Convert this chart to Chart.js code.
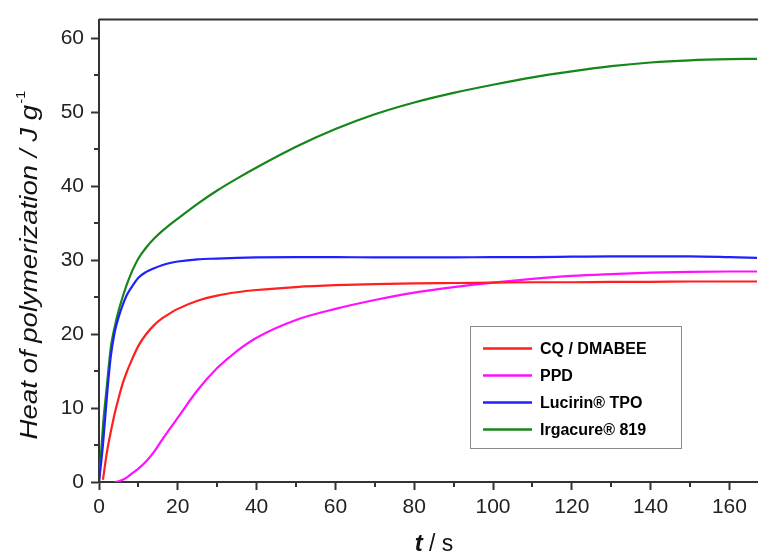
<!DOCTYPE html>
<html>
<head>
<meta charset="utf-8">
<script src="https://cdn.jsdelivr.net/npm/chart.js@4.4.0/dist/chart.umd.min.js"></script>
<style>
  html, body { margin: 0; padding: 0; background: #fff; }
  #wrap { width: 758px; height: 554px; }
</style>
</head>
<body>
<div id="wrap"><canvas id="dsc"></canvas></div>
<script>
// Tempo (s) e calor de polimerização (J/g)
const tSec = [0, 1, 2, 3, 4, 5, 6, 7, 8, 10, 12, 14, 16, 18, 20, 25, 30, 35, 40,
  50, 60, 70, 80, 90, 100, 110, 120, 130, 140, 150, 160, 167];

const hCQ = [null, 0.3, 4.0, 6.8, 9.3, 11.4, 13.3, 14.8, 16.1, 18.4, 20.0, 21.2, 22.1, 22.8, 23.4, 24.5, 25.2, 25.65, 25.95,
  26.35, 26.6, 26.75, 26.85, 26.9, 26.95, 27.0, 27.0, 27.05, 27.05, 27.1, 27.1, 27.1];

const hPPD = [null, null, null, null, 0, 0.1, 0.3, 0.6, 1.0, 1.8, 2.8, 4.1, 5.7, 7.2, 8.7, 12.4, 15.4, 17.7, 19.5,
  21.9, 23.4, 24.6, 25.6, 26.35, 26.95, 27.45, 27.85, 28.1, 28.3, 28.4, 28.45, 28.45];

const hTPO = [0, 5.0, 11.5, 17.0, 20.3, 22.3, 23.9, 25.2, 26.1, 27.6, 28.4, 28.9, 29.3, 29.6, 29.8, 30.1, 30.2, 30.3, 30.35,
  30.4, 30.4, 30.35, 30.35, 30.35, 30.4, 30.4, 30.45, 30.5, 30.5, 30.5, 30.4, 30.3];

const h819 = [0, 7.5, 13.0, 18.2, 21.0, 23.2, 25.0, 26.6, 28.0, 30.2, 31.7, 32.9, 33.9, 34.8, 35.6, 37.6, 39.4, 41.0, 42.5,
  45.3, 47.7, 49.7, 51.3, 52.6, 53.7, 54.7, 55.5, 56.2, 56.7, 57.0, 57.15, 57.2];

const seriesNames = ['CQ / DMABEE', 'PPD', 'Lucirin® TPO', 'Irgacure® 819'];
const seriesColors = ['#ff1f1f', '#ff10ff', '#1f1fff', '#16861a'];

// Marcas dos eixos
const xTicks = [0, 20, 40, 60, 80, 100, 120, 140, 160];
const xMinor = [10, 30, 50, 70, 90, 110, 130, 150];
const yTicks = [0, 10, 20, 30, 40, 50, 60];
const yMinor = [5, 15, 25, 35, 45, 55];

const fontFam = "'Liberation Sans', Arial, sans-serif";
const axisColor = '#333333';

function toPoints(values) {
  return tSec.map((t, i) => ({ x: t, y: values[i] }));
}

// Plugin: bordas, marcas secundárias, títulos dos eixos e legenda interna
const decorPlugin = {
  id: 'decor',
  afterDraw(chart) {
    const ctx = chart.ctx;
    const area = chart.chartArea;
    const xs = chart.scales.x;
    const ys = chart.scales.y;

    ctx.save();
    ctx.strokeStyle = axisColor;
    ctx.lineWidth = 2;

    // borda superior
    ctx.beginPath();
    ctx.moveTo(area.left, area.top);
    ctx.lineTo(area.right + 2, area.top);
    ctx.stroke();

    // marcas secundárias
    xMinor.forEach(v => {
      const px = Math.round(xs.getPixelForValue(v));
      ctx.beginPath();
      ctx.moveTo(px, area.bottom);
      ctx.lineTo(px, area.bottom + 5);
      ctx.stroke();
    });
    yMinor.forEach(v => {
      const py = Math.round(ys.getPixelForValue(v));
      ctx.beginPath();
      ctx.moveTo(area.left, py);
      ctx.lineTo(area.left - 5, py);
      ctx.stroke();
    });

    // título do eixo y (com expoente), levemente esticado como no original
    ctx.fillStyle = '#111';
    const mainTxt = 'Heat of polymerization / J g';
    const supTxt = '-1';
    const stretch = 1.15;
    ctx.font = 'italic 24px ' + fontFam;
    const w1 = ctx.measureText(mainTxt).width;
    ctx.font = '13px ' + fontFam;
    const w2 = ctx.measureText(supTxt).width;
    ctx.translate(37, 265);
    ctx.rotate(-Math.PI / 2);
    ctx.scale(stretch, 1);
    ctx.textBaseline = 'alphabetic';
    ctx.textAlign = 'left';
    const startX = -(w1 + w2 + 1) / 2;
    ctx.font = 'italic 24px ' + fontFam;
    ctx.fillText(mainTxt, startX, 0);
    ctx.font = '13px ' + fontFam;
    ctx.fillText(supTxt, startX + w1 + 1, -12);
    ctx.setTransform(1, 0, 0, 1, 0, 0);

    // título do eixo x
    ctx.font = 'italic bold 24px ' + fontFam;
    const wt = ctx.measureText('t').width;
    ctx.font = '23px ' + fontFam;
    const ws = ctx.measureText(' / s').width;
    let tx = 434 - (wt + ws) / 2;
    ctx.font = 'italic bold 24px ' + fontFam;
    ctx.fillText('t', tx, 551);
    ctx.font = '23px ' + fontFam;
    ctx.fillText(' / s', tx + wt, 551);

    // legenda
    ctx.fillStyle = '#fff';
    ctx.fillRect(470.5, 326.5, 211, 122);
    ctx.strokeStyle = '#8a8a8a';
    ctx.lineWidth = 1;
    ctx.strokeRect(470.5, 326.5, 211, 122);
    ctx.font = 'bold 16px ' + fontFam;
    ctx.textBaseline = 'middle';
    chart.data.datasets.forEach((ds, i) => {
      const rowY = 348.5 + i * 27;
      ctx.strokeStyle = ds.borderColor;
      ctx.lineWidth = 2.5;
      ctx.beginPath();
      ctx.moveTo(483, rowY);
      ctx.lineTo(532, rowY);
      ctx.stroke();
      ctx.fillStyle = '#000';
      ctx.fillText(ds.label, 540, rowY + 1);
    });
    ctx.restore();
  }
};

const ctx = document.getElementById('dsc').getContext('2d');
new Chart(ctx, {
  type: 'line',
  data: {
    datasets: [hCQ, hPPD, hTPO, h819].map((vals, i) => ({
      label: seriesNames[i],
      data: toPoints(vals),
      borderColor: seriesColors[i],
      backgroundColor: seriesColors[i],
      borderWidth: 2.2,
      pointRadius: 0,
      fill: false,
      cubicInterpolationMode: 'monotone'
    }))
  },
  options: {
    responsive: true,
    maintainAspectRatio: false,
    animation: false,
    layout: { padding: { top: 13, right: 1, left: 0, bottom: 0 } },
    plugins: {
      legend: { display: false },
      tooltip: { enabled: false }
    },
    scales: {
      x: {
        type: 'linear',
        min: 0,
        max: 167,
        afterBuildTicks: scale => { scale.ticks = xTicks.map(v => ({ value: v })); },
        afterFit: scale => { scale.height = 72; },
        grid: {
          drawOnChartArea: false,
          drawTicks: true,
          tickLength: 8,
          tickWidth: 2,
          tickColor: axisColor
        },
        border: { display: true, color: axisColor, width: 2 },
        ticks: {
          color: '#222',
          padding: 5,
          maxRotation: 0,
          font: { family: fontFam, size: 21 }
        }
      },
      y: {
        min: 0,
        max: 62.5,
        afterBuildTicks: scale => { scale.ticks = yTicks.map(v => ({ value: v })); },
        afterFit: scale => { scale.width = 99; },
        grid: {
          drawOnChartArea: false,
          drawTicks: true,
          tickLength: 8,
          tickWidth: 2,
          tickColor: axisColor
        },
        border: { display: true, color: axisColor, width: 2 },
        ticks: {
          color: '#222',
          padding: 7,
          font: { family: fontFam, size: 21 }
        }
      }
    }
  },
  plugins: [decorPlugin]
});
</script>
</body>
</html>
